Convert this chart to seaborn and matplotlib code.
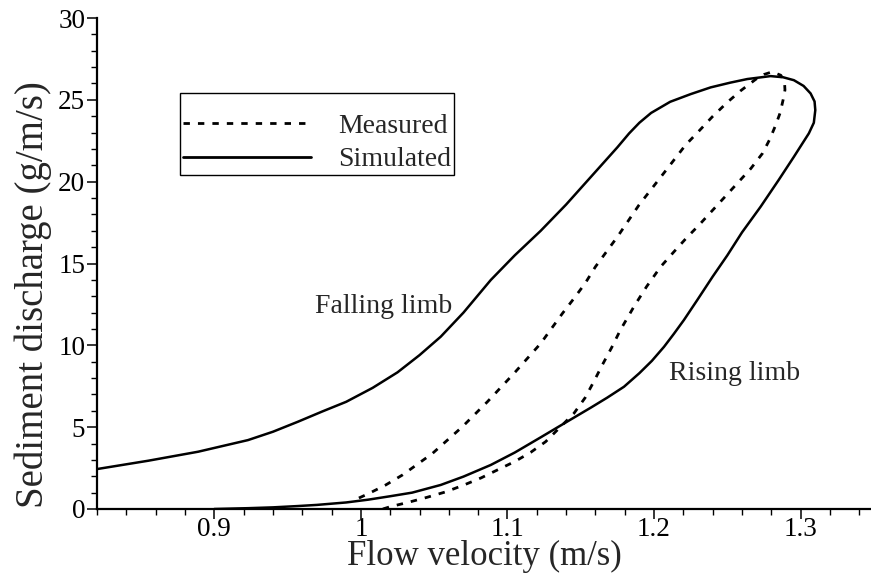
import matplotlib
matplotlib.use("Agg")
import matplotlib.pyplot as plt
import seaborn as sns
import pandas as pd
from matplotlib.ticker import MultipleLocator

# ---- data ----
# Simulated loop: rising limb (lower branch) out to the cap, then falling limb back
sim_velocity = [0.900, 0.923, 0.940, 0.957, 0.970, 0.990, 1.005, 1.020, 1.035, 1.0545,
                1.070, 1.0886, 1.105, 1.1227, 1.140, 1.157, 1.168, 1.1795, 1.190, 1.1985,
                1.2068, 1.2135, 1.2204, 1.2295, 1.240, 1.250, 1.260, 1.2727, 1.285, 1.2954,
                1.3006, 1.3056, 1.309, 1.310, 1.3095, 1.3068, 1.302, 1.2954, 1.288, 1.2795,
                1.2636, 1.252, 1.2386, 1.225, 1.211, 1.198, 1.190, 1.183, 1.175, 1.159,
                1.140, 1.1227, 1.105, 1.0886, 1.070, 1.0545, 1.040, 1.025, 1.008, 0.990,
                0.974, 0.957, 0.940, 0.923, 0.889, 0.855, 0.820]
sim_discharge = [0.00, 0.05, 0.10, 0.18, 0.25, 0.40, 0.57, 0.78, 1.00, 1.47,
                 1.98, 2.69, 3.45, 4.38, 5.30, 6.20, 6.80, 7.47, 8.30, 9.05,
                 9.91, 10.70, 11.55, 12.77, 14.20, 15.50, 16.90, 18.47, 20.10, 21.52,
                 22.25, 22.95, 23.60, 24.37, 24.90, 25.39, 25.85, 26.20, 26.38, 26.45,
                 26.27, 26.05, 25.76, 25.35, 24.88, 24.20, 23.60, 22.95, 22.10, 20.50,
                 18.60, 17.00, 15.50, 13.99, 12.00, 10.53, 9.40, 8.35, 7.40, 6.55,
                 5.97, 5.33, 4.72, 4.21, 3.50, 2.95, 2.44]

# Measured loop: lower (rising) branch up to the peak, then upper (falling) branch
meas_velocity = [1.015, 1.020, 1.032, 1.045, 1.058, 1.0704, 1.082, 1.093, 1.105, 1.116,
                 1.126, 1.1363, 1.1454, 1.153, 1.159, 1.1647, 1.171, 1.177, 1.1865, 1.195,
                 1.2045, 1.2136, 1.222, 1.2307, 1.244, 1.2568, 1.266, 1.274, 1.279, 1.283,
                 1.286, 1.288, 1.2893, 1.289, 1.2865, 1.2806, 1.275, 1.2693, 1.259, 1.250,
                 1.2397, 1.2307, 1.2215, 1.2056, 1.1897, 1.175, 1.160, 1.153, 1.1454, 1.1375,
                 1.1227, 1.1045, 1.0863, 1.0693, 1.0489, 1.0284, 1.017, 1.0057, 0.9945]
meas_discharge = [0.00, 0.14, 0.40, 0.71, 1.05, 1.47, 1.90, 2.38, 2.90, 3.47,
                  4.11, 5.03, 5.85, 6.80, 7.80, 8.80, 9.85, 10.93, 12.40, 13.60,
                  14.80, 15.72, 16.55, 17.35, 18.65, 19.90, 20.80, 21.73, 22.60, 23.46,
                  24.20, 24.98, 25.60, 26.10, 26.50, 26.71, 26.55, 26.25, 25.55, 24.85,
                  23.96, 23.10, 22.24, 20.40, 18.57, 16.63, 14.80, 13.79, 12.87, 11.95,
                  10.12, 8.29, 6.55, 5.03, 3.40, 2.08, 1.47, 0.96, 0.50]

x_ticks = [0.9, 1.0, 1.1, 1.2, 1.3]
x_tick_labels = ["0.9", "1", "1.1", "1.2", "1.3"]
y_ticks = [0, 5, 10, 15, 20, 25, 30]

sim_df = pd.DataFrame({"v": sim_velocity, "q": sim_discharge})
meas_df = pd.DataFrame({"v": meas_velocity, "q": meas_discharge})

sns.set_theme(style="ticks")
plt.rcParams["font.family"] = ["Liberation Serif", "DejaVu Serif"]
plt.rcParams["axes.edgecolor"] = "black"

fig = plt.figure(figsize=(8.71, 5.75), dpi=100)
ax = fig.add_axes([97 / 871, 66 / 575, 1 - 97 / 871, 491 / 575])

sns.lineplot(data=meas_df, x="v", y="q", sort=False, estimator=None, ax=ax,
             color="black", linewidth=2.0, linestyle=(0, (2.3, 2.9)), label="Measured")
sns.lineplot(data=sim_df, x="v", y="q", sort=False, estimator=None, ax=ax,
             color="black", linewidth=1.8, linestyle="-", label="Simulated")

ax.set_xlim(0.82, 1.348)
ax.set_ylim(0, 30)
ax.set_xticks(x_ticks)
ax.set_xticklabels(x_tick_labels)
ax.set_yticks(y_ticks)
ax.xaxis.set_minor_locator(MultipleLocator(0.02))
ax.yaxis.set_minor_locator(MultipleLocator(1))
ax.tick_params(which="major", direction="out", length=7, width=1.1, labelsize=19.5,
               colors="black")
ax.tick_params(which="minor", direction="out", length=4.5, width=1.0, colors="black")
ax.tick_params(axis="x", which="major", pad=-1.2)
ax.tick_params(axis="y", which="major", pad=1.5)

for s in ["top", "right"]:
    ax.spines[s].set_visible(False)
for s in ["left", "bottom"]:
    ax.spines[s].set_linewidth(1.6)
    ax.spines[s].set_color("black")

ax.set_xlabel("Flow velocity (m/s)", fontsize=25)
ax.set_ylabel("Sediment discharge (g/m/s)", fontsize=28)
ax.xaxis.set_label_coords(0.5, -0.064)
ax.yaxis.set_label_coords(-0.058, 0.436)

ax.text(0.9686, 12.0, "Falling limb", fontsize=20, ha="left", va="baseline")
ax.text(1.21, 7.9, "Rising limb", fontsize=20, ha="left", va="baseline")

leg = ax.legend(loc="upper left", bbox_to_anchor=(180 / 871, 1 - 93 / 575),
                bbox_transform=fig.transFigure, fontsize=20, frameon=True,
                fancybox=False, edgecolor="black", framealpha=1,
                title=" ", title_fontsize=7,
                handlelength=4.6, handletextpad=1.0, labelspacing=0.3,
                borderpad=0.1, borderaxespad=0)
leg.get_frame().set_linewidth(1.0)
for h in leg.get_lines():
    h.set_linewidth(2.0)

fig.savefig("out.png", dpi=100)
